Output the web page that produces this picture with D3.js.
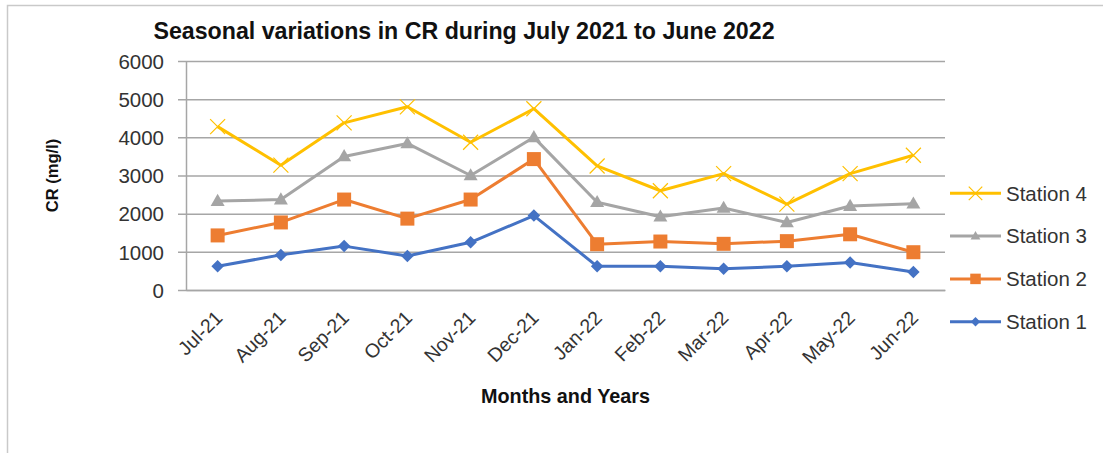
<!DOCTYPE html>
<html>
<head>
<meta charset="utf-8">
<script src="https://cdn.jsdelivr.net/npm/d3@7"></script>
<style>
  html, body { margin: 0; padding: 0; background: #fff; }
  svg { display: block; font-family: "Liberation Sans", Arial, sans-serif; }
</style>
</head>
<body>
<svg id="chart" width="1103" height="453"></svg>
<script>
// Monthly CR (mg/l) readings per station, July 2021 to June 2022
const months = ["Jul-21", "Aug-21", "Sep-21", "Oct-21", "Nov-21", "Dec-21",
                "Jan-22", "Feb-22", "Mar-22", "Apr-22", "May-22", "Jun-22"];
const station1 = [620, 920, 1150, 890, 1250, 1950, 620, 620, 560, 620, 720, 470];
const station2 = [1430, 1770, 2370, 1870, 2370, 3430, 1200, 1270, 1210, 1280, 1460, 990];
const station3 = [2330, 2370, 3500, 3840, 3000, 4000, 2300, 1920, 2150, 1770, 2200, 2260];
const station4 = [4280, 3270, 4380, 4800, 3870, 4750, 3250, 2600, 3050, 2250, 3050, 3530];
const yTicks = [0, 1000, 2000, 3000, 4000, 5000, 6000];

const series = [
  { name: "Station 1", values: station1, color: "#4472C4", marker: "diamond" },
  { name: "Station 2", values: station2, color: "#ED7D31", marker: "square" },
  { name: "Station 3", values: station3, color: "#A5A5A5", marker: "triangle" },
  { name: "Station 4", values: station4, color: "#FFC000", marker: "cross" }
];

const svg = d3.select("#chart");
const plot = { left: 186, right: 945, top: 61, bottom: 290 };

// outer frame
svg.append("path")
  .attr("d", "M7.5,453 V5.5 H1103")
  .attr("fill", "none").attr("stroke", "#c9c9c9").attr("stroke-width", 1.5);

const x = d3.scaleBand().domain(months).range([plot.left, plot.right]);
const y = d3.scaleLinear().domain([0, 6000]).range([plot.bottom, plot.top]);

// gridlines + y axis
const yAxis = d3.axisLeft(y).tickValues(yTicks).tickFormat(d3.format("d"))
  .tickSize(-(plot.right - plot.left)).tickSizeOuter(0);
const gy = svg.append("g").attr("transform", `translate(${plot.left},0)`).call(yAxis);
gy.select(".domain").attr("stroke", "#a6a6a6").attr("stroke-width", 1.5);
gy.selectAll(".tick line").attr("stroke", "#a6a6a6").attr("stroke-width", 1.5).attr("x1", -8);
gy.selectAll(".tick text")
  .attr("font-size", 20.5).attr("fill", "#333").attr("font-family", "Liberation Sans, Arial, sans-serif")
  .attr("x", -22).attr("dy", "0.35em");

// x axis
const xAxis = d3.axisBottom(x).tickSize(0).tickSizeOuter(0);
const gx = svg.append("g").attr("transform", `translate(0,${plot.bottom})`).call(xAxis);
gx.select(".domain").attr("stroke", "#a6a6a6").attr("stroke-width", 1.5);
gx.selectAll(".tick text")
  .attr("font-size", 19.5).attr("fill", "#333").attr("font-family", "Liberation Sans, Arial, sans-serif")
  .attr("text-anchor", "end")
  .attr("y", 0).attr("dy", 0)
  .attr("transform", "translate(6,29) rotate(-45)");

// marker shapes
function drawMarker(g, type, color, s) {
  if (type === "diamond") {
    g.append("path").attr("d", `M0,${-s/2} L${s/2},0 L0,${s/2} L${-s/2},0 Z`).attr("fill", color);
  } else if (type === "square") {
    g.append("rect").attr("x", -s/2).attr("y", -s/2).attr("width", s).attr("height", s).attr("fill", color);
  } else if (type === "triangle") {
    const h = s * 0.87;
    g.append("path").attr("d", `M0,${-h*0.6} L${s/2},${h*0.4} L${-s/2},${h*0.4} Z`).attr("fill", color);
  } else {
    const r = s / 2;
    g.append("path").attr("d", `M${-r},${-r} L${r},${r} M${-r},${r} L${r},${-r}`)
      .attr("stroke", color).attr("stroke-width", 1.2).attr("fill", "none");
  }
}
const markerSize = { diamond: 12.5, square: 14, triangle: 14, cross: 15 };
const legendMarkerScale = { diamond: 0.75, square: 0.75, triangle: 0.7, cross: 0.9 };

const line = d3.line().x((d, i) => x(months[i]) + x.bandwidth() / 2).y(d => y(d));

series.forEach(s => {
  const g = svg.append("g");
  g.append("path").datum(s.values).attr("d", line)
    .attr("fill", "none").attr("stroke", s.color).attr("stroke-width", 3).attr("stroke-linejoin", "round");
  s.values.forEach((v, i) => {
    const m = g.append("g").attr("transform", `translate(${x(months[i]) + x.bandwidth() / 2},${y(v)})`);
    drawMarker(m, s.marker, s.color, markerSize[s.marker]);
  });
});

// legend (Station 4 at top)
const legendY = d3.scalePoint().domain(series.map(d => d.name).reverse()).range([193.3, 321.7]);
series.forEach(s => {
  const ly = legendY(s.name);
  const g = svg.append("g").attr("transform", `translate(950,${ly})`);
  g.append("line").attr("x1", 0).attr("x2", 51).attr("y1", 0).attr("y2", 0)
    .attr("stroke", s.color).attr("stroke-width", 3);
  const m = g.append("g").attr("transform", "translate(25.5,0)");
  drawMarker(m, s.marker, s.color, markerSize[s.marker] * legendMarkerScale[s.marker]);
  g.append("text").attr("x", 56).attr("y", 0).attr("dy", "0.36em")
    .attr("font-size", 20.5).attr("fill", "#333").text(s.name);
});

// titles
svg.append("text").attr("x", 464).attr("y", 39).attr("text-anchor", "middle")
  .attr("font-size", 23.2).attr("font-weight", "bold").attr("fill", "#111")
  .text("Seasonal variations in CR during July 2021 to June 2022");

svg.append("text").attr("x", (plot.left + plot.right) / 2).attr("y", 403).attr("text-anchor", "middle")
  .attr("font-size", 19.8).attr("font-weight", "bold").attr("fill", "#111")
  .text("Months and Years");

svg.append("text").attr("transform", `translate(58,${(plot.top + plot.bottom) / 2}) rotate(-90)`)
  .attr("text-anchor", "middle")
  .attr("font-size", 16.5).attr("font-weight", "bold").attr("fill", "#111")
  .text("CR (mg/l)");
</script>
</body>
</html>
